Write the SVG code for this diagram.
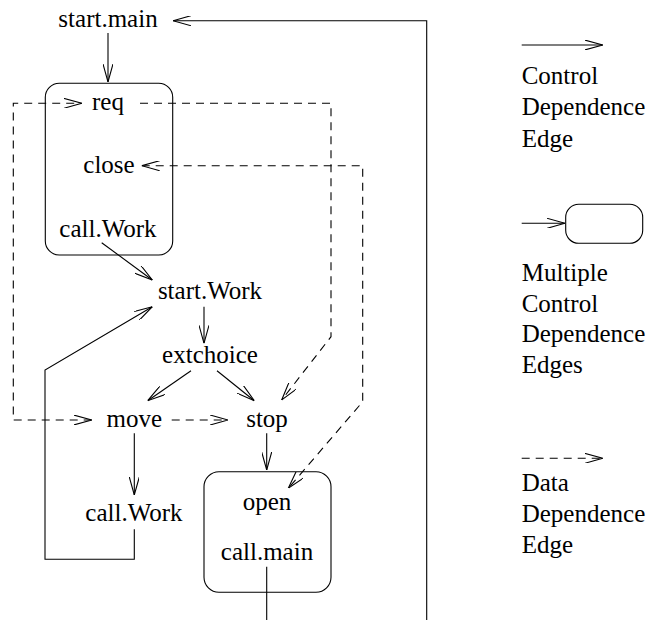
<svg xmlns="http://www.w3.org/2000/svg" width="649" height="620" viewBox="0 0 649 620">
  <style>
    .t { font-family: "Liberation Serif", "Times New Roman", serif; font-size: 25px; fill: #000; }
    .c { text-anchor: middle; }
    .ctl { fill: none; stroke: #000; stroke-width: 1.1; }
    .dat { fill: none; stroke: #000; stroke-width: 1.1; stroke-dasharray: 8 6; }
    .box { fill: none; stroke: #000; stroke-width: 1.1; }
  </style>
  <defs>
    <!-- open chevron arrowhead, shared by control and data edges -->
    <marker id="vee" viewBox="0 0 18 10" refX="18" refY="5" markerWidth="18" markerHeight="10" markerUnits="userSpaceOnUse" orient="auto-start-reverse">
      <path d="M0,0 L18,5 L0,10" fill="none" stroke="#000" stroke-width="1.1" stroke-dasharray="none"/>
    </marker>
  </defs>

  <g id="connectors">
    <!-- control dependence edges -->
    <line class="ctl" x1="108" y1="33" x2="108" y2="82" marker-end="url(#vee)"/>
    <polyline class="ctl" points="266.7,620 266.7,566.7"/>
    <polyline class="ctl" points="426.7,620 426.7,20.7 173,20.7" marker-end="url(#vee)"/>
    <line class="ctl" x1="101.7" y1="242.7" x2="152.3" y2="280" marker-end="url(#vee)"/>
    <line class="ctl" x1="204" y1="306.7" x2="204" y2="343.3" marker-end="url(#vee)"/>
    <line class="ctl" x1="191" y1="370.7" x2="147.7" y2="400.7" marker-end="url(#vee)"/>
    <line class="ctl" x1="217" y1="370.7" x2="254.3" y2="400.7" marker-end="url(#vee)"/>
    <line class="ctl" x1="134.3" y1="433.3" x2="134.3" y2="495" marker-end="url(#vee)"/>
    <line class="ctl" x1="266.7" y1="433.3" x2="266.7" y2="470" marker-end="url(#vee)"/>
    <polyline class="ctl" points="134.3,529.3 134.3,559.3 45,559.3 45,370 152.3,306.7" marker-end="url(#vee)"/>
    <!-- data dependence edges -->
    <path class="dat" d="M91.7,420 H13.3 V103.3 H81.7" marker-start="url(#vee)" marker-end="url(#vee)"/>
    <path class="dat" d="M140,103.3 H331 V336.7 L281.7,400" marker-end="url(#vee)"/>
    <path class="dat" d="M141.7,165.7 H362.7 V401.7 L288.3,488.3" marker-start="url(#vee)" marker-end="url(#vee)"/>
    <line class="dat" x1="171.7" y1="420" x2="228" y2="420" marker-end="url(#vee)"/>
  </g>

  <g id="start-main"><text class="t c" x="108" y="26.7">start.main</text></g>
  <g id="group-main">
    <rect class="box" x="45.3" y="83.3" width="127.4" height="171.7" rx="14" ry="14"/>
  </g>
  <g id="req"><text class="t c" x="108" y="110">req</text></g>
  <g id="close"><text class="t c" x="109" y="173.3">close</text></g>
  <g id="call-work-1"><text class="t c" x="108" y="236.7">call.Work</text></g>
  <g id="start-work"><text class="t c" x="210" y="299.3">start.Work</text></g>
  <g id="extchoice"><text class="t c" x="210" y="363.3">extchoice</text></g>
  <g id="move"><text class="t c" x="134.3" y="426.7">move</text></g>
  <g id="stop"><text class="t c" x="267" y="426.7">stop</text></g>
  <g id="call-work-2"><text class="t c" x="134" y="521">call.Work</text></g>
  <g id="group-end">
    <rect class="box" x="204" y="471.7" width="127" height="120.6" rx="15" ry="15"/>
  </g>
  <g id="open"><text class="t c" x="267" y="510">open</text></g>
  <g id="call-main"><text class="t c" x="267" y="560">call.main</text></g>

  <g id="legend">
    <line class="ctl" x1="521.7" y1="45" x2="602.7" y2="45" marker-end="url(#vee)"/>
    <text class="t" x="521.7" y="84">Control</text>
    <text class="t" x="521.7" y="115">Dependence</text>
    <text class="t" x="521.7" y="146.7">Edge</text>

    <line class="ctl" x1="521.7" y1="223.3" x2="565" y2="223.3" marker-end="url(#vee)"/>
    <rect class="box" x="565.7" y="204.3" width="77" height="39" rx="13" ry="13"/>
    <text class="t" x="521.7" y="280.7">Multiple</text>
    <text class="t" x="521.7" y="311.7">Control</text>
    <text class="t" x="521.7" y="342">Dependence</text>
    <text class="t" x="521.7" y="372.7">Edges</text>

    <line class="dat" x1="521.7" y1="458.3" x2="602.7" y2="458.3" marker-end="url(#vee)"/>
    <text class="t" x="521.7" y="490.7">Data</text>
    <text class="t" x="521.7" y="521.7">Dependence</text>
    <text class="t" x="521.7" y="553.3">Edge</text>
  </g>
</svg>
